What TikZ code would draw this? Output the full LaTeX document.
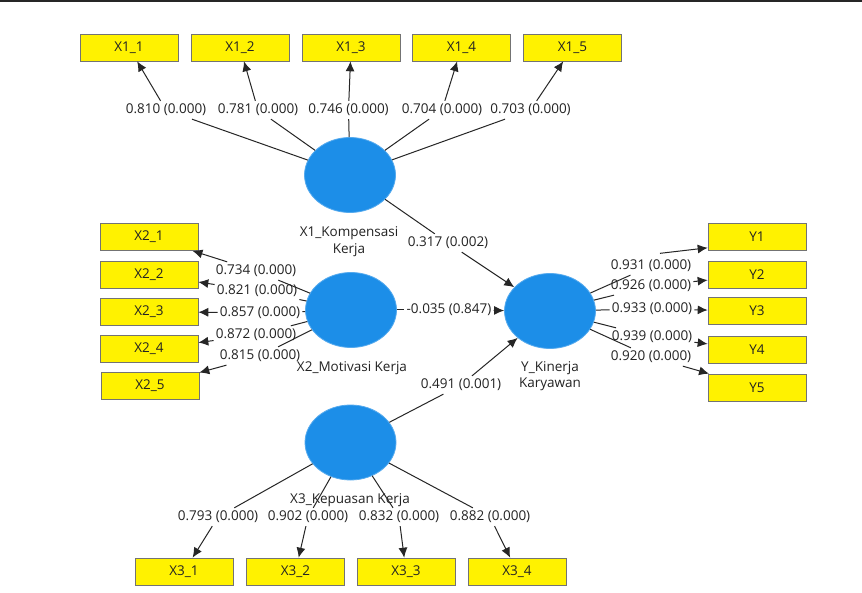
\documentclass[tikz,border=0pt]{standalone}
\usepackage{fontspec}
\setmainfont{Open Sans}
\usetikzlibrary{arrows.meta,shapes.geometric,calc}
\definecolor{latblue}{RGB}{28,142,232}
\definecolor{txtgray}{RGB}{35,35,35}
\tikzset{
  ind/.style={draw=black!55, line width=0.6pt, fill=yellow, minimum width=98pt, minimum height=27pt,
              inner sep=0pt, font=\fontsize{13.5}{16}\selectfont, text=txtgray},
  lat/.style={ellipse, fill=latblue, draw=latblue!75!white, line width=0.8pt,
              minimum width=91pt, minimum height=75pt, inner sep=0pt},
  lbl/.style={font=\fontsize{13.5}{16}\selectfont, inner xsep=2pt, inner ysep=3pt, text=txtgray},
  latname/.style={font=\fontsize{13.5}{16.5}\selectfont, align=center, inner sep=0pt, text=txtgray},
  ln/.style={line width=1pt, draw=black!85},
  arr/.style={ln, -{Latex[length=10pt,width=9pt]}}
}
\begin{document}
\begin{tikzpicture}[x=1pt,y=-1pt]
\useasboundingbox (0,0) rectangle (862,593);
\fill[white] (0,0) rectangle (862,593);
\draw[line width=2pt, black!85] (0,1) -- (862,1);

% indicators
\node[ind] (X11) at (129,47.5) {X1\_1};
\node[ind] (X12) at (240,47.5) {X1\_2};
\node[ind] (X13) at (351,47.5) {X1\_3};
\node[ind] (X14) at (461.5,47.5) {X1\_4};
\node[ind] (X15) at (572.5,47.5) {X1\_5};
\node[ind] (X21) at (149,237) {X2\_1};
\node[ind] (X22) at (149,274.5) {X2\_2};
\node[ind] (X23) at (149,311.5) {X2\_3};
\node[ind] (X24) at (149,349) {X2\_4};
\node[ind] (X25) at (150,386) {X2\_5};
\node[ind] (Y1) at (757,237) {Y1};
\node[ind] (Y2) at (757,275) {Y2};
\node[ind] (Y3) at (757,311) {Y3};
\node[ind] (Y4) at (757,350) {Y4};
\node[ind] (Y5) at (757,387.5) {Y5};
\node[ind] (X31) at (184,571.5) {X3\_1};
\node[ind] (X32) at (295.5,571.5) {X3\_2};
\node[ind] (X33) at (406,571.5) {X3\_3};
\node[ind] (X34) at (517,571.5) {X3\_4};

% latent variables
\node[lat] (X1) at (350,175) {};
\node[lat] (X2) at (351,310) {};
\node[lat] (Y) at (550,311) {};
\node[lat] (X3) at (350.5,442.5) {};

% latent names
\node[latname] (tX1) at (349,241.5) {X1\_Kompensasi\\Kerja};
\node[latname] (tX2) at (352,368) {X2\_Motivasi Kerja};
\node[latname] (tY) at (550,376) {Y\_Kinerja\\Karyawan};
\node[latname] (tX3) at (350,500) {X3\_Kepuasan Kerja};

% loading labels
\node[lbl] (l11) at (166,110) {0.810 (0.000)};
\node[lbl] (l12) at (258,110) {0.781 (0.000)};
\node[lbl] (l13) at (348.5,110) {0.746 (0.000)};
\node[lbl] (l14) at (442,110) {0.704 (0.000)};
\node[lbl] (l15) at (530.5,110) {0.703 (0.000)};
\node[lbl] (l21) at (256,271) {0.734 (0.000)};
\node[lbl] (l22) at (257,291) {0.821 (0.000)};
\node[lbl] (l23) at (260,313) {0.857 (0.000)};
\node[lbl] (l24) at (256,335) {0.872 (0.000)};
\node[lbl] (l25) at (260,356) {0.815 (0.000)};
\node[lbl] (ly1) at (651,266) {0.931 (0.000)};
\node[lbl] (ly2) at (651,286) {0.926 (0.000)};
\node[lbl] (ly3) at (652,309) {0.933 (0.000)};
\node[lbl] (ly4) at (652,337) {0.939 (0.000)};
\node[lbl] (ly5) at (651,357) {0.920 (0.000)};
\node[lbl] (l31) at (218,517) {0.793 (0.000)};
\node[lbl] (l32) at (308,517) {0.902 (0.000)};
\node[lbl] (l33) at (399,517) {0.832 (0.000)};
\node[lbl] (l34) at (490,517) {0.882 (0.000)};
% path labels
\node[lbl] (p1) at (448,243) {0.317 (0.002)};
\node[lbl] (p2) at (449,310) {-0.035 (0.847)};
\node[lbl] (p3) at (461,385) {0.491 (0.001)};

% X1 loadings
\foreach \i in {1,...,5}{
  \draw[ln] (X1) -- (l1\i);
  \draw[arr] (l1\i) -- (X1\i);
}
% X2 loadings
\foreach \i in {1,...,5}{
  \draw[ln] (X2) -- (l2\i);
  \draw[arr] (l2\i) -- (X2\i);
}
% X3 loadings
\foreach \i in {1,...,4}{
  \draw[ln] (X3) -- (l3\i);
  \draw[arr] (l3\i) -- (X3\i);
}
% Y loadings
\foreach \i in {1,...,5}{
  \draw[ln] (Y) -- (ly\i);
}
\draw[arr] ([xshift=9pt,yshift=3.5pt]ly1.north) -- ([yshift=3pt]Y1.south west);
\foreach \i in {2,...,5}{
  \draw[arr] (ly\i) -- (Y\i);
}
% structural paths
\draw[ln] (X1) -- (p1);
\draw[arr] (p1) -- (Y);
\draw[ln] (X2) -- (p2);
\draw[arr] (p2) -- (Y);
\draw[ln] (X3) -- (p3);
\draw[arr] (p3) -- (Y);
\end{tikzpicture}
\end{document}
